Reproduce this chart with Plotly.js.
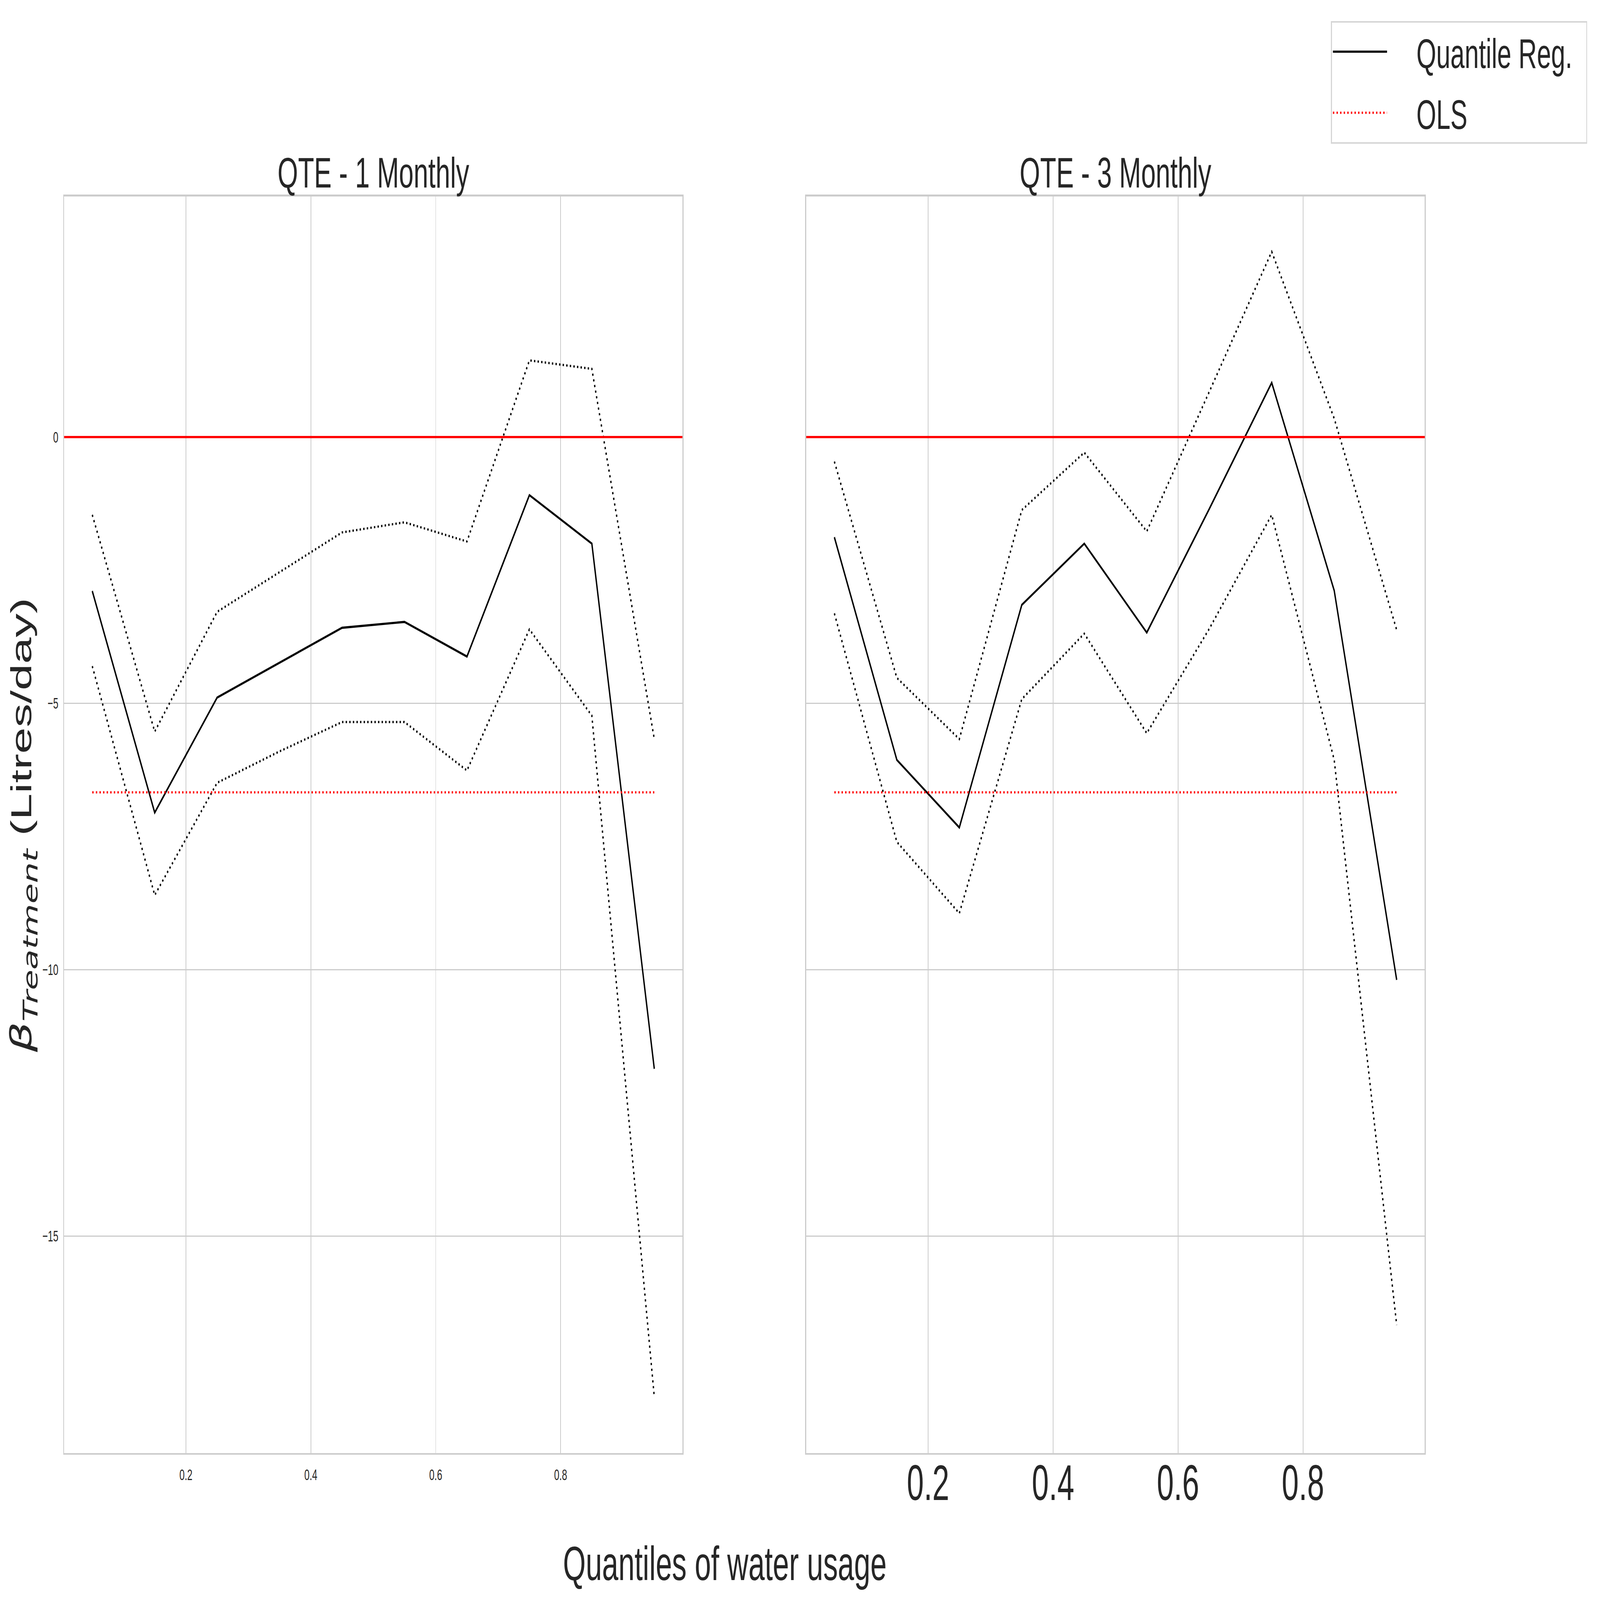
<!DOCTYPE html>
<html>
<head>
<meta charset="utf-8">
<script src="https://cdn.plot.ly/plotly-3.0.1.min.js"></script>
<style>
  html, body { margin: 0; padding: 0; overflow: hidden; background: #ffffff; }
  #chart { position: absolute; left: 0; top: 0; width: 7656px; height: 4704px; transform-origin: 0 0; }
</style>
</head>
<body>
<div id="chart"></div>
<script>
// quantiles of water usage
var quantiles = [0.05, 0.15, 0.25, 0.35, 0.45, 0.55, 0.65, 0.75, 0.85, 0.95];

// QTE - 1 Monthly
var qr1      = [-2.89, -7.05, -4.89, -4.23, -3.58, -3.47, -4.12, -1.09, -2.00, -11.86];
var qr1Upper = [-1.46, -5.53, -3.28, -2.53, -1.79, -1.60, -1.96,  1.44,  1.28,  -5.67];
var qr1Lower = [-4.30, -8.60, -6.49, -5.90, -5.35, -5.35, -6.26, -3.61, -5.23, -18.02];

// QTE - 3 Monthly
var qr3      = [-1.88, -6.06, -7.33, -3.15, -2.00, -3.67, -1.35,  1.02, -2.88, -10.19];
var qr3Upper = [-0.46, -4.52, -5.67, -1.37, -0.29, -1.77,  0.85,  3.48,  0.35,  -3.62];
var qr3Lower = [-3.31, -7.60, -8.94, -4.92, -3.69, -5.56, -3.60, -1.46, -6.06, -16.67];

// OLS estimate, same for both panels
var olsCoef = -6.67;
var olsX = [quantiles[0], quantiles[quantiles.length - 1]];
var olsY = [olsCoef, olsCoef];

var W0 = 7656, H0 = 4704;

// the window we get may not be the size we asked for, so squeeze the
// full size drawing into whatever is there
var vw = window.innerWidth || document.documentElement.clientWidth || W0;
var vh = window.innerHeight || document.documentElement.clientHeight || H0;
document.getElementById('chart').style.transform = 'scale(' + (vw / W0) + ',' + (vh / H0) + ')';

var LW = 6.5;
var DOT = '6.5px,10.7px';
var txt = '#262626';
var grid = '#cccccc';
var font = 'Liberation Sans, Arial, sans-serif';
var pad = '\u00a0\u00a0\u00a0\u00a0';

function panel(xa, ya, q, lo, hi, first) {
  return [
    {x: quantiles, y: q, xaxis: xa, yaxis: ya, mode: 'lines', name: pad + 'Quantile Reg.\u2002',
     legendgroup: 'qr', showlegend: first, line: {color: 'black', width: LW}},
    {x: quantiles, y: hi, xaxis: xa, yaxis: ya, mode: 'lines', showlegend: false,
     line: {color: 'black', width: LW, dash: DOT}},
    {x: quantiles, y: lo, xaxis: xa, yaxis: ya, mode: 'lines', showlegend: false,
     line: {color: 'black', width: LW, dash: DOT}},
    {x: olsX, y: olsY, xaxis: xa, yaxis: ya, mode: 'lines', name: pad + 'OLS',
     legendgroup: 'ols', showlegend: first, line: {color: 'red', width: LW, dash: DOT}}
  ];
}

var data = panel('x', 'y', qr1, qr1Lower, qr1Upper, true)
  .concat(panel('x2', 'y2', qr3, qr3Lower, qr3Upper, false));

var xCommon = {
  range: [0.005, 0.995], dtick: 0.2, tick0: 0,
  showline: true, mirror: true, linecolor: grid, linewidth: 5,
  showgrid: true, gridcolor: grid, gridwidth: 3.5, zeroline: false,
  ticks: '', tickformat: '.1f'
};

var layout = {
  width: W0, height: H0,
  margin: {l: 0, r: 0, t: 0, b: 0},
  paper_bgcolor: 'white', plot_bgcolor: 'white',
  font: {family: font, color: txt},
  showlegend: true,
  xaxis: Object.assign({}, xCommon, {
    domain: [0.0401, 0.4265], anchor: 'y',
    tickfont: {size: 45, color: txt}, ticklabelstandoff: 20
  }),
  xaxis2: Object.assign({}, xCommon, {
    domain: [0.5039, 0.8905], anchor: 'y2',
    tickfont: {size: 146, color: txt}, ticklabelstandoff: -42
  }),
  yaxis: {
    domain: [0.0918, 0.8773], anchor: 'x', range: [-19.075, 4.52], dtick: 5,
    showline: true, mirror: true, linecolor: grid, linewidth: 5,
    showgrid: true, gridcolor: grid, gridwidth: 3.5, zeroline: false,
    ticks: '', tickfont: {size: 45, color: txt}, ticklabelstandoff: 14
  },
  yaxis2: {
    domain: [0.0918, 0.8773], anchor: 'x2', matches: 'y', dtick: 5,
    showline: true, mirror: true, linecolor: grid, linewidth: 5,
    showgrid: true, gridcolor: grid, gridwidth: 3.5, zeroline: false,
    ticks: '', showticklabels: false
  },
  shapes: [
    {type: 'line', xref: 'x domain', yref: 'y', x0: 0, x1: 1, y0: 0, y1: 0,
     line: {color: 'red', width: LW}},
    {type: 'line', xref: 'x2 domain', yref: 'y2', x0: 0, x1: 1, y0: 0, y1: 0,
     line: {color: 'red', width: LW}}
  ],
  legend: {
    x: 0.9919, xanchor: 'right', y: 0.9868, yanchor: 'top',
    bgcolor: 'white', bordercolor: '#d6d6d6', borderwidth: 4,
    font: {size: 122, color: txt, family: font},
    traceorder: 'grouped', tracegroupgap: 18, itemwidth: 259
  },
  annotations: [
    {text: 'QTE - 1 Monthly', xref: 'paper', yref: 'paper', x: 0.2333, y: 0.8767,
     xanchor: 'center', yanchor: 'bottom', showarrow: false, font: {size: 126, color: txt}},
    {text: 'QTE - 3 Monthly', xref: 'paper', yref: 'paper', x: 0.6972, y: 0.8767,
     xanchor: 'center', yanchor: 'bottom', showarrow: false, font: {size: 126, color: txt}},
    {text: 'Quantiles of water usage', xref: 'paper', yref: 'paper', x: 0.4531, y: 0.0055,
     xanchor: 'center', yanchor: 'bottom', showarrow: false, font: {size: 140, color: txt}},
    {text: '<span style="font-family:DejaVu Sans"><i>β</i><sub><i>Treatment</i></sub></span> (Litres/day)',
     xref: 'paper', yref: 'paper',
     x: 0.0144, y: 0.4843, xanchor: 'center', yanchor: 'middle', textangle: -90,
     showarrow: false, font: {size: 140, color: txt}}
  ]
};

Plotly.newPlot('chart', data, layout, {staticPlot: true});
</script>
</body>
</html>
